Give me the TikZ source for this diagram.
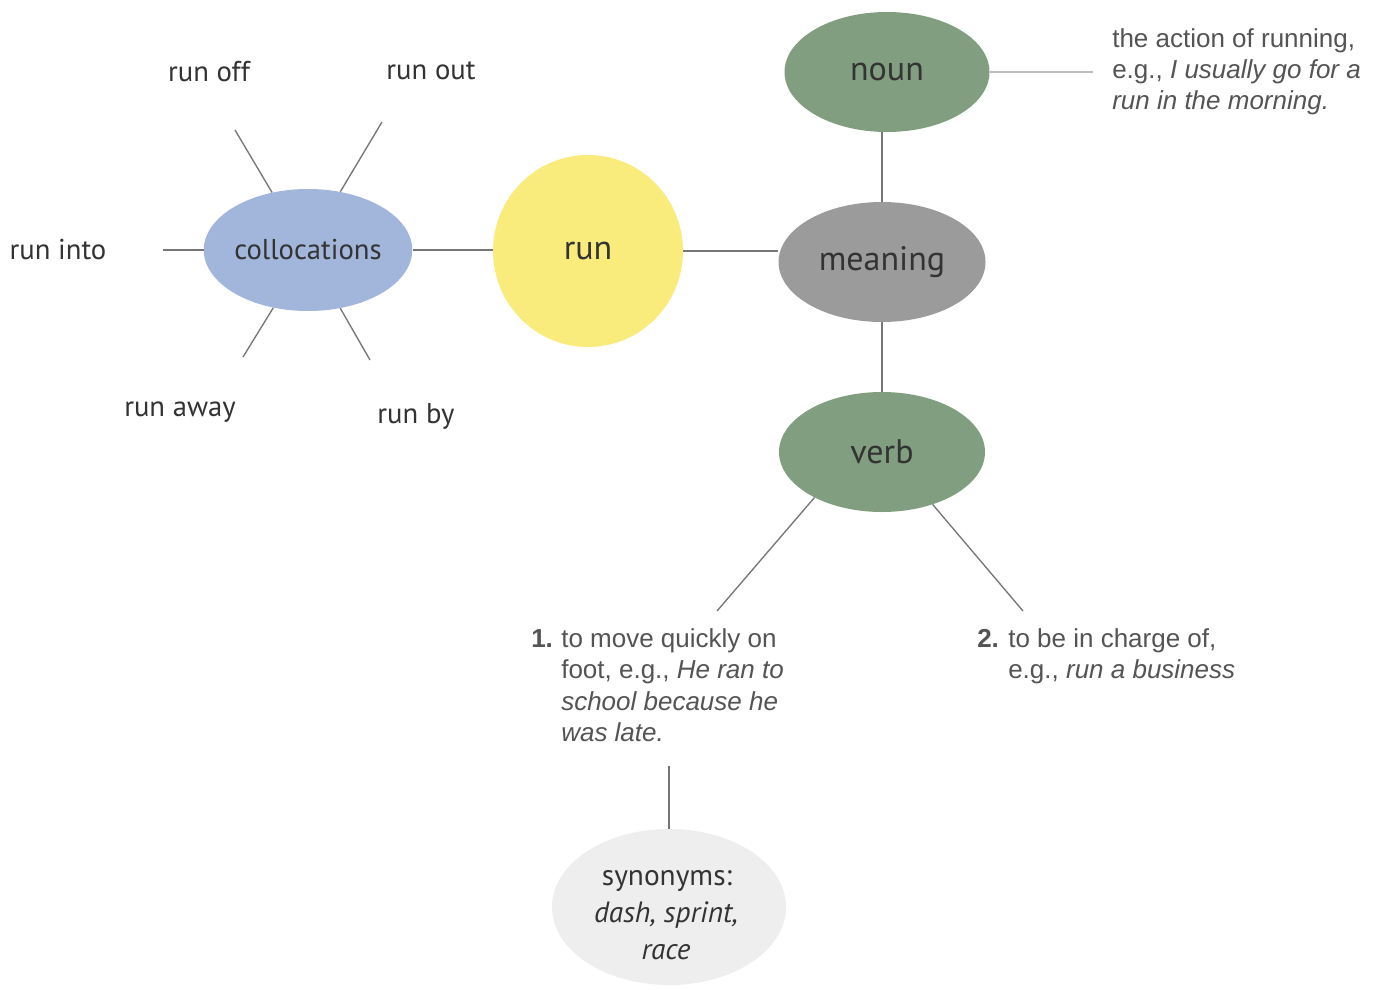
\documentclass[tikz,border=0pt]{standalone}
\usepackage{fontspec}
\setmainfont{Liberation Sans}
\newfontfamily\lblfont{PT Sans}
\newfontfamily\deffont{Liberation Sans}
\usetikzlibrary{shapes.geometric}
\newdimen\pxu \pxu=0.75pt
\definecolor{collblue}{HTML}{A2B5DA}
\definecolor{runyellow}{HTML}{F9EB7C}
\definecolor{sagegreen}{HTML}{819F80}
\definecolor{meangray}{HTML}{9B9B9B}
\definecolor{synbg}{HTML}{EFEEEE}
\definecolor{labeltext}{HTML}{333333}
\definecolor{deftext}{HTML}{545454}
\definecolor{linkgray}{HTML}{767676}
\definecolor{lightlink}{HTML}{BDBDBD}
\begin{document}
\begin{tikzpicture}[x=0.75pt,y=-0.75pt,
  bubble/.style={ellipse, inner sep=0, font=\lblfont\fontsize{25.5}{30}\selectfont, text=labeltext},
  lbl/.style={font=\lblfont\fontsize{21.5}{26}\selectfont, text=labeltext, inner sep=0, anchor=base},
  synline/.style={font=\lblfont\fontsize{22}{26}\selectfont, text=labeltext, inner sep=0, anchor=base},
  defn/.style={font=\deffont\fontsize{19.5}{24}\selectfont, text=deftext, inner sep=0, anchor=base west},
  link/.style={draw=linkgray, line width=1pt}
]
\useasboundingbox[fill=white] (0,0) rectangle (1374,989);

% bubbles
\node[bubble, fill=collblue, minimum width=207\pxu, minimum height=122\pxu, font=\lblfont\fontsize{21.5}{26}\selectfont] (coll) at (308,250) {collocations};
\node[bubble, fill=runyellow, minimum width=190\pxu, minimum height=192\pxu] (run) at (588,251) {run};
\node[bubble, fill=sagegreen, minimum width=205\pxu, minimum height=120\pxu] (noun) at (887,72) {noun};
\node[bubble, fill=meangray, minimum width=207\pxu, minimum height=120\pxu] (meaning) at (882,262) {meaning};
\node[bubble, fill=sagegreen, minimum width=206\pxu, minimum height=120\pxu] (verb) at (882,452) {verb};
\node[ellipse, fill=synbg, inner sep=0, minimum width=234\pxu, minimum height=156\pxu] (syn) at (669,907) {};

% collocation labels
\node[lbl] (roff) at (209,81) {run off};
\node[lbl] (rout) at (431,79) {run out};
\node[lbl] (rinto) at (58,259) {run into};
\node[lbl] (raway) at (180,416) {run away};
\node[lbl] (rby) at (416,423) {run by};

% free ends of collocation spokes
\coordinate (eoff) at (235,130);
\coordinate (eout) at (382,122);
\coordinate (einto) at (163,252);
\coordinate (eaway) at (243,357);
\coordinate (eby) at (370,360);

\draw[link] (coll.122) -- (eoff);
\draw[link] (coll.61) -- (eout);
\draw[link] (einto |- coll.west) -- (coll.west);
\draw[link] (coll.239) -- (eaway);
\draw[link] (coll.299) -- (eby);

% main spine
\draw[link] (coll.east) -- (run.west |- coll.east);
\draw[link] (run.east) -- (meaning.west |- run.east);
\draw[link] (meaning.north |- noun.south) -- (meaning.north);
\draw[link] (meaning.south) -- (verb.north);

% noun definition
\node[defn] (nd1) at (1112,47) {the action of running,};
\node[defn] (nd2) at (1112,78) {e.g., \textit{I usually go for a}};
\node[defn] (nd3) at (1112,109) {\textit{run in the morning.}};
\coordinate (ndl) at (1093,72);
\draw[draw=lightlink, line width=1.3pt] (noun.east) -- (ndl);

% verb definition 1
\node[defn] (n1) at (531,647) {\textbf{1.}};
\node[defn] (d1a) at (561,647) {to move quickly on};
\node[defn] (d1b) at (561,678.5) {foot, e.g., \textit{He ran to}};
\node[defn] (d1c) at (561,710) {\textit{school because he}};
\node[defn] (d1d) at (561,741.5) {\textit{was late.}};

% verb definition 2
\node[defn] (n2) at (977,647) {\textbf{2.}};
\node[defn] (d2a) at (1008,647) {to be in charge of,};
\node[defn] (d2b) at (1008,678.5) {e.g., \textit{run a business}};

\coordinate (v1end) at (717,611);
\coordinate (v2end) at (1023,611);
\draw[link] (verb.214) -- (v1end);
\draw[link] (verb.314) -- (v2end);

% synonyms
\coordinate (d1low) at (669,766);
\draw[link] (d1low) -- (syn.north);
\node[synline] (s1) at (667,885) {synonyms:};
\node[synline] (s2) at (666,922) {\textit{dash, sprint,}};
\node[synline] (s3) at (666,959) {\textit{race}};
\end{tikzpicture}
\end{document}
